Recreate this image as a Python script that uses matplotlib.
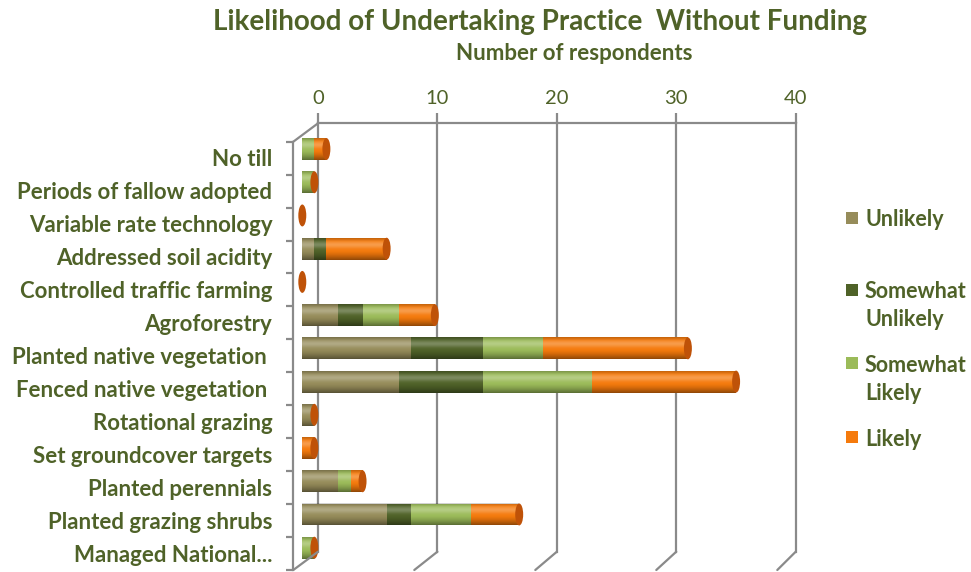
import matplotlib
matplotlib.use("Agg")
import numpy as np
import matplotlib.pyplot as plt
from matplotlib import patches, markers
from matplotlib.patches import ConnectionPatch

# respondents per practice, stacked left to right
practices = ['No till', 'Periods of fallow adopted', 'Variable rate technology',
             'Addressed soil acidity', 'Controlled traffic farming', 'Agroforestry',
             'Planted native vegetation ', 'Fenced native vegetation ',
             'Rotational grazing', 'Set groundcover targets', 'Planted perennials',
             'Planted grazing shrubs', 'Managed National...']
unlikely = [0, 0, 0, 1, 0, 3, 9, 8, 1, 0, 3, 7, 0]
somewhat_unlikely = [0, 0, 0, 1, 0, 2, 6, 7, 0, 0, 0, 2, 0]
somewhat_likely = [1, 1, 0, 0, 0, 3, 5, 9, 0, 0, 1, 5, 1]
likely = [1, 0, 0, 5, 0, 3, 12, 12, 0, 1, 1, 4, 0]

series_names = ['Unlikely', 'Somewhat\nUnlikely', 'Somewhat\nLikely', 'Likely']
series_colors = ['#968C5A', '#4F6228', '#9BBB59', '#F57A0C']
cap_color = '#BF5208'
x_ticks = [0, 10, 20, 30, 40]

TEXT = '#4F6228'
GRID = '#8A8A8A'
FONT = 'Lato'

W, H = 971, 572
fig = plt.figure(figsize=(W / 100, H / 100), dpi=100)


def px_axes(x0, x1, y0, y1, **kw):
    # axes placed by pixel box (top-left origin)
    a = fig.add_axes([x0 / W, 1 - y1 / H, (x1 - x0) / W, (y1 - y0) / H], **kw)
    a.set_xlim(0, 40)
    a.set_ylim(len(practices) - 0.5, -0.5)
    a.set_axis_off()
    return a


# three planes of the pseudo-3d box: back wall, bars, front edge
ax_back = px_axes(318, 795.7, 123.3, 551.7)
ax_front = px_axes(293.3, 293.3 + 484, 141.7, 570)
ax = px_axes(302.3, 302.3 + 482, 132.4, 564.3)

n = len(practices)
rows = np.arange(n)
bottom_y = n - 0.5
top_y = -0.5

# back wall: gridlines, top axis line, ticks and labels
for v in x_ticks:
    ax_back.plot([v, v], [top_y, bottom_y], color=GRID, lw=1.6, clip_on=False)
    ax_back.plot([v], [top_y], marker=markers.TICKUP, ms=7, mew=1.6, color=GRID, clip_on=False)
    ax_back.annotate(str(v), (v, top_y), xytext=(0, 25), textcoords='offset pixels',
                     ha='center', va='center', fontsize=14.5, color=TEXT, family=FONT)
    # floor edge running to the front
    fig.add_artist(ConnectionPatch((v, bottom_y), (v, bottom_y), ax_back.transData,
                                   ax_front.transData, color=GRID, lw=1.6))
ax_back.plot([0, 40], [top_y, top_y], color=GRID, lw=1.6, clip_on=False)
fig.add_artist(ConnectionPatch((0, top_y), (0, top_y), ax_back.transData,
                               ax_front.transData, color=GRID, lw=1.6))

# front edge: category axis
ax_front.plot([0, 0], [top_y, bottom_y], color=GRID, lw=1.6, clip_on=False)
ax_front.plot(np.zeros(n + 1), np.arange(n + 1) - 0.5, ls='none', marker=markers.TICKLEFT,
              ms=4.8, mew=1.6, color=GRID, clip_on=False)
for i, name in enumerate(practices):
    ax_front.annotate(name, (0, i), xytext=(-21, -8), textcoords='offset pixels',
                      ha='right', va='baseline', fontsize=16, fontweight='bold',
                      color=TEXT, family=FONT)

# stacked cylinders
bar_h = 0.66
values = [unlikely, somewhat_unlikely, somewhat_likely, likely]
left = np.zeros(n)
for vals, col in zip(values, series_colors):
    vals = np.array(vals, dtype=float)
    ax.barh(rows, vals, left=left, height=bar_h, color=col, edgecolor='none', zorder=2)
    left += vals

# cylinder shading overlay
t = np.linspace(0, 1, 64)
dark = 0.42 * np.clip((t - 0.55) / 0.45, 0, 1) ** 1.5 + 0.2 * np.clip((0.16 - t) / 0.16, 0, 1)
light = 0.26 * np.exp(-((t - 0.3) / 0.16) ** 2)
shade = np.zeros((64, 1, 4))
shade[:, 0, :3] = (light / (light + dark + 1e-9))[:, None]
shade[:, 0, 3] = light + dark
for i, total in enumerate(left):
    if total > 0:
        ax.imshow(shade, extent=(0, total, i + bar_h / 2, i - bar_h / 2),
                  aspect='auto', interpolation='bilinear', zorder=3)
    ax.add_patch(patches.Ellipse((total, i), 0.66, bar_h, facecolor=cap_color,
                                 edgecolor='none', zorder=4, clip_on=False))
ax.set_xlim(0, 40)
ax.set_ylim(n - 0.5, -0.5)

# legend
legend_y = [218, 290, 363, 437]
for name, col, y in zip(series_names, series_colors, legend_y):
    fig.add_artist(patches.Rectangle((846 / W, 1 - (y + 6) / H), 12 / W, 12 / H,
                                     transform=fig.transFigure, facecolor=col, edgecolor='none'))
    for j, line in enumerate(name.split('\n')):
        fig.text(865 / W, 1 - (y + 28 * j) / H, line, ha='left', va='center_baseline',
                 fontsize=15.5, fontweight='bold', color=TEXT, family=FONT)

fig.text(540 / W, 1 - 22 / H, 'Likelihood of Undertaking Practice  Without Funding',
         ha='center', va='center', fontsize=20, fontweight='bold', color=TEXT, family=FONT)
fig.text(574 / W, 1 - 54 / H, 'Number of respondents', ha='center', va='center',
         fontsize=16, fontweight='bold', color=TEXT, family=FONT)

fig.savefig('out.png', dpi=100, facecolor='white')
